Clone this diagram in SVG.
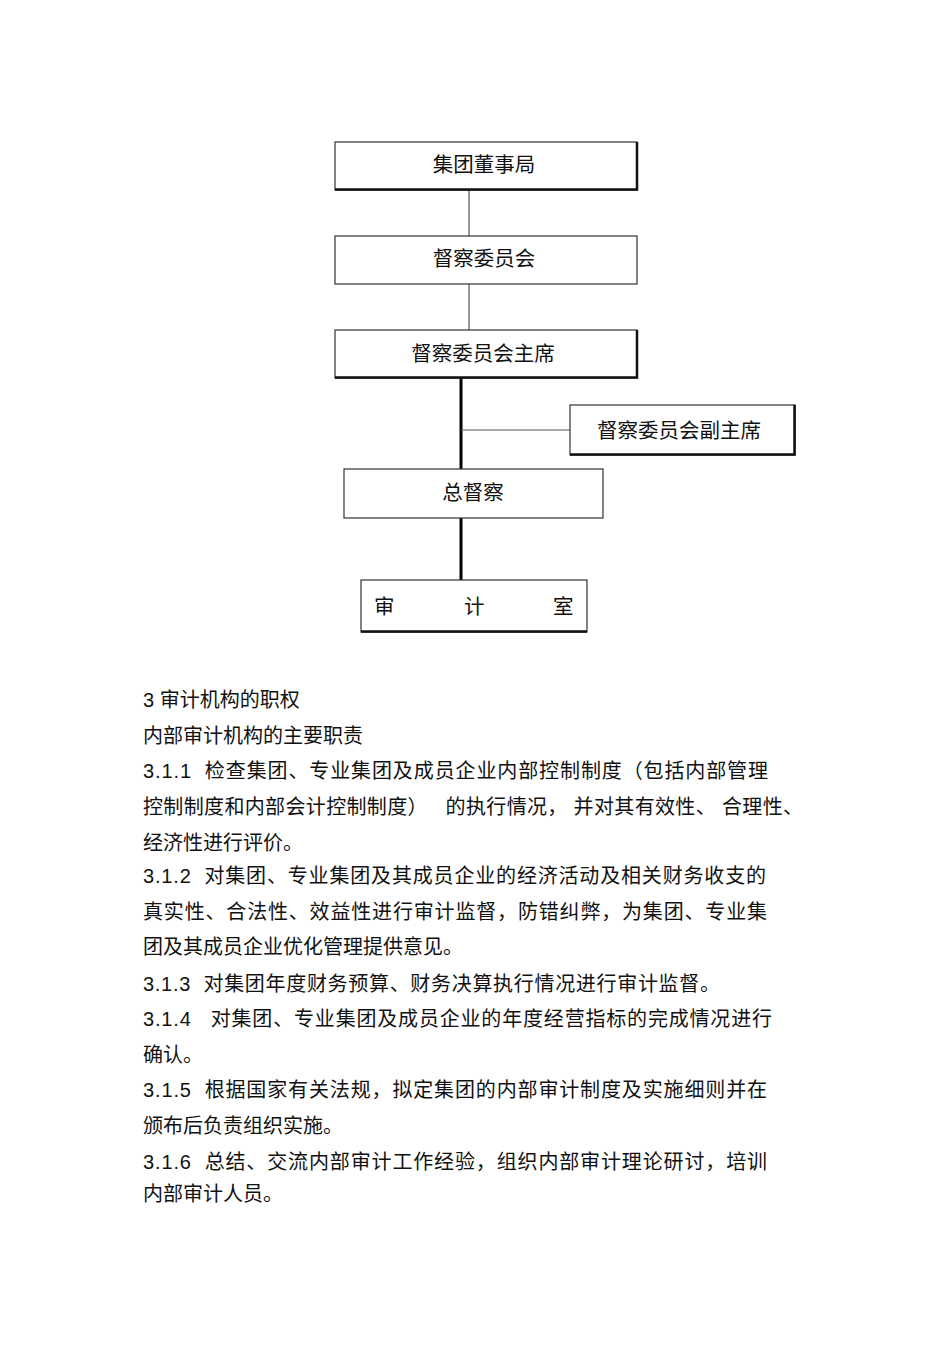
<svg xmlns="http://www.w3.org/2000/svg" width="950" height="1345" viewBox="0 0 950 1345">
<style>
.box{fill:#fff;stroke:#333;stroke-width:1.2}
.sh{stroke:#111;stroke-width:2.5;fill:none}
.t{font-family:"Liberation Sans","Noto Sans CJK SC",sans-serif;font-size:20px;fill:#111}
.b{font-size:20.5px}
.c{text-anchor:middle}
.thin{stroke:#555;stroke-width:1.2;fill:none}
.thick{stroke:#000;stroke-width:3;fill:none}
</style>
<rect width="950" height="1345" fill="#fff"/>
<g id="connectors">
<line class="thin" x1="469" y1="190" x2="469" y2="236"/>
<line class="thin" x1="469" y1="284" x2="469" y2="330"/>
<line class="thick" x1="461" y1="376" x2="461" y2="478"/>
<line class="thin" x1="461" y1="430" x2="570" y2="430"/>
<line class="thick" x1="461" y1="512" x2="461" y2="584"/>
</g>
<g id="n1"><rect class="box" x="335" y="142" width="302" height="48"/><path class="sh" d="M335 189.5H637V142"/><text class="t b c" x="484" y="172">集团董事局</text></g>
<g id="n2"><rect class="box" x="335" y="236" width="302" height="48"/><text class="t b c" x="484" y="266">督察委员会</text></g>
<g id="n3"><rect class="box" x="335" y="330" width="302" height="48"/><path class="sh" d="M335 377.5H637V330"/><text class="t b c" x="483" y="361">督察委员会主席</text></g>
<g id="n4"><rect class="box" x="570" y="405" width="225" height="50"/><path class="sh" d="M570 454.5H794.5V405"/><text class="t b c" x="679" y="438">督察委员会副主席</text></g>
<g id="n5"><rect class="box" x="344" y="469" width="259" height="49"/><text class="t b c" x="473" y="500">总督察</text></g>
<g id="n6"><rect class="box" x="361" y="580" width="226" height="52"/><path class="sh" d="M361 631.5H587"/><text class="t b" x="374" y="614">审</text><text class="t b" x="464" y="614">计</text><text class="t b" x="553" y="614">室</text></g>
<g id="body">
<text class="t" x="143" y="707">3 审计机构的职权</text>
<text class="t" x="143" y="743">内部审计机构的主要职责</text>
<text class="t" x="143" y="778" textLength="625" xml:space="preserve">3.1.1  检查集团、专业集团及成员企业内部控制制度（包括内部管理</text>
<text class="t" x="143" y="814" textLength="660" xml:space="preserve">控制制度和内部会计控制制度）   的执行情况， 并对其有效性、 合理性、</text>
<text class="t" x="143" y="850">经济性进行评价。</text>
<text class="t" x="143" y="883" textLength="623" xml:space="preserve">3.1.2  对集团、专业集团及其成员企业的经济活动及相关财务收支的</text>
<text class="t" x="143" y="919" textLength="624">真实性、合法性、效益性进行审计监督，防错纠弊，为集团、专业集</text>
<text class="t" x="143" y="954">团及其成员企业优化管理提供意见。</text>
<text class="t" x="143" y="991" textLength="577" xml:space="preserve">3.1.3  对集团年度财务预算、财务决算执行情况进行审计监督。</text>
<text class="t" x="143" y="1026" textLength="629" xml:space="preserve">3.1.4   对集团、专业集团及成员企业的年度经营指标的完成情况进行</text>
<text class="t" x="143" y="1062">确认。</text>
<text class="t" x="143" y="1097" textLength="624" xml:space="preserve">3.1.5  根据国家有关法规，拟定集团的内部审计制度及实施细则并在</text>
<text class="t" x="143" y="1133">颁布后负责组织实施。</text>
<text class="t" x="143" y="1169" textLength="624" xml:space="preserve">3.1.6  总结、交流内部审计工作经验，组织内部审计理论研讨，培训</text>
<text class="t" x="143" y="1201">内部审计人员。</text>
</g>
</svg>
